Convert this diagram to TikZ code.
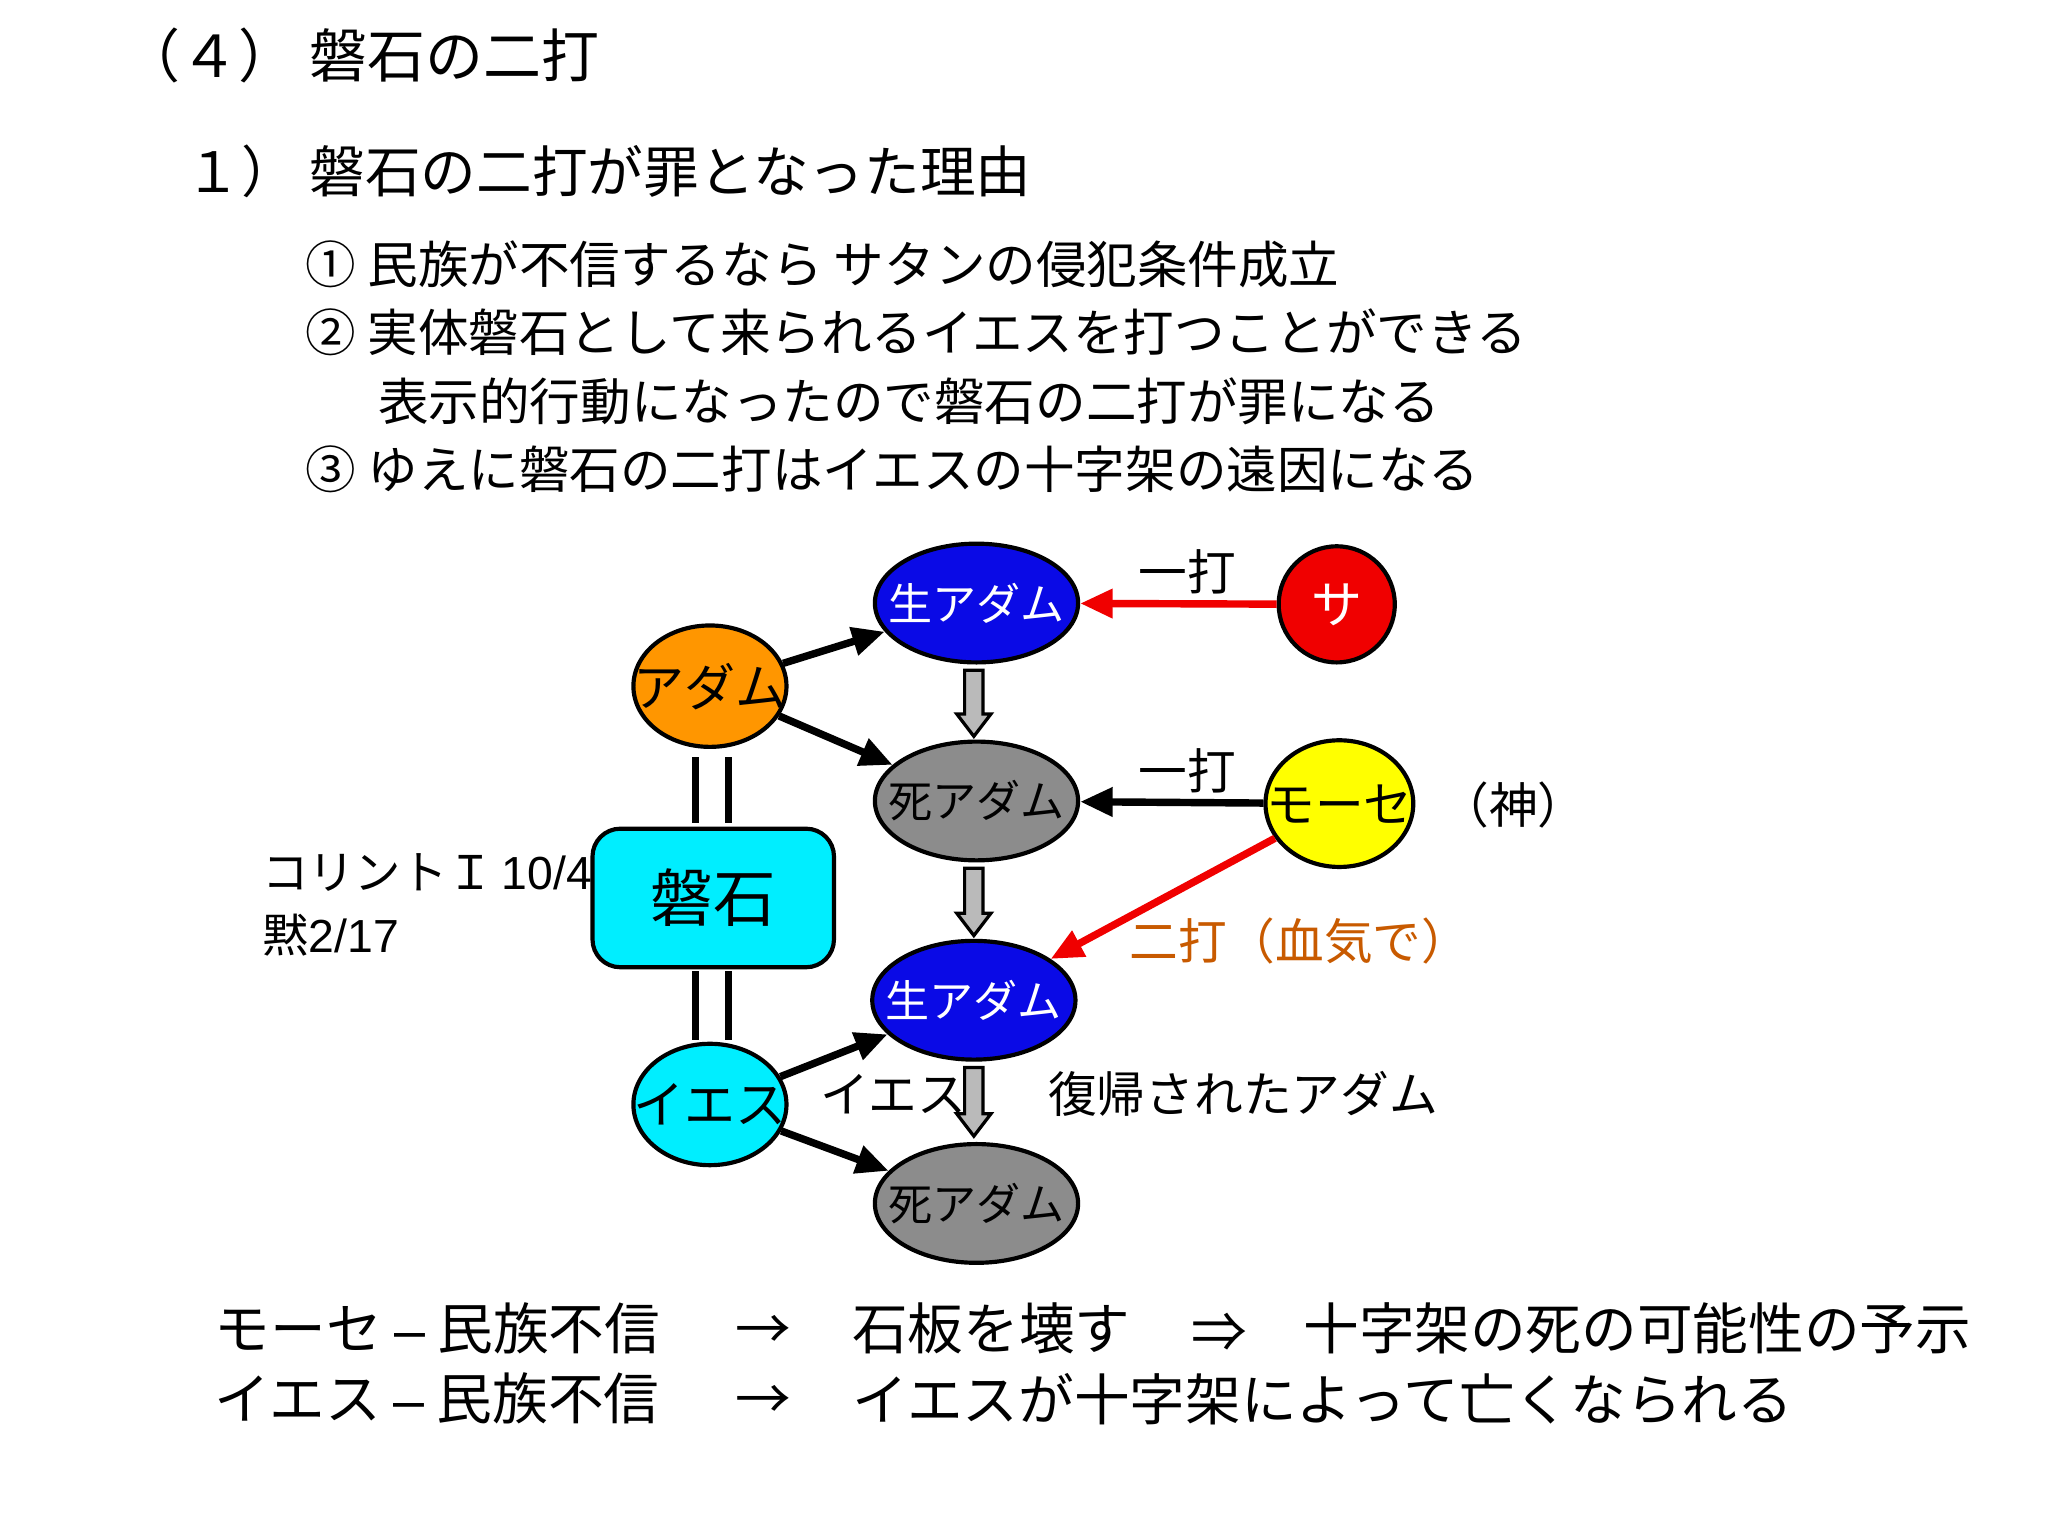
\documentclass[tikz,border=0pt]{standalone}
\usepackage{fontspec}
\setmainfont{Liberation Sans}
\newfontfamily\jp{Noto Sans CJK JP}
\usetikzlibrary{shapes.geometric,arrows.meta}
\definecolor{myblue}{RGB}{10,10,230}
\definecolor{myorange}{RGB}{255,150,0}
\definecolor{mygray}{RGB}{140,140,140}
\definecolor{mycyan}{RGB}{0,238,255}
\definecolor{myyellow}{RGB}{255,255,0}
\definecolor{myred}{RGB}{240,0,0}
\definecolor{mybrown}{RGB}{200,90,0}
\newcommand{\fs}[1]{\fontsize{#1}{#1}\selectfont}
\tikzset{
 ell/.style={ellipse,draw=black,line width=0.9pt,inner sep=0pt,minimum width=1.54cm,minimum height=0.9cm},
 lab/.style={inner sep=0pt,font=\jp\fs{9.5}},
 conn/.style={line width=1.6pt,-{Triangle[length=7pt,width=6pt]}},
 txt/.style={anchor=west,inner sep=0pt,font=\jp\fs{11}},
 garrow/.style={fill=mygray!60,draw=black,line width=0.7pt}
}
\begin{document}
\begin{tikzpicture}[x=1cm,y=-1cm]
\useasboundingbox (0,0) rectangle (15.52,11.64);
\node[txt,font=\jp\fs{12.5}] (t1) at (0.92,0.42) {（４）\ 磐石の二打};
\node[txt,font=\jp\fs{12}] (t2) at (1.40,1.30) {１）\ 磐石の二打が罪となった理由};
\node[txt,font=\jp\fs{10.9}] (i1) at (2.31,2.00) {① 民族が不信するなら サタンの侵犯条件成立};
\node[txt,font=\jp\fs{10.9}] (i2) at (2.31,2.52) {② 実体磐石として来られるイエスを打つことができる};
\node[txt,font=\jp\fs{10.9}] (i3) at (2.86,3.04) {表示的行動になったので磐石の二打が罪になる};
\node[txt,font=\jp\fs{10.9}] (i4) at (2.31,3.56) {③ ゆえに磐石の二打はイエスの十字架の遠因になる};

\node[txt,font=\jp\fs{10}] (kor) at (1.98,6.61) {コリントＩ\,{\fontspec{Liberation Sans}10/4}};
\node[txt,font=\jp\fs{10}] (moku) at (1.98,7.09) {黙{\fontspec{Liberation Sans}2/17}};

\node[ell,fill=myblue] (l1) at (7.40,4.57) {};
\node[ell,fill=myred,minimum width=0.88cm,minimum height=0.88cm] (sa) at (10.13,4.58) {};
\node[ell,fill=myorange,minimum width=1.16cm,minimum height=0.92cm] (adam) at (5.38,5.20) {};
\node[ell,fill=mygray] (d1) at (7.40,6.07) {};
\node[ell,fill=myyellow,minimum width=1.12cm,minimum height=0.96cm] (mose) at (10.15,6.09) {};
\node[draw=black,line width=0.9pt,fill=mycyan,rounded corners=6pt,minimum width=1.83cm,minimum height=1.05cm,font=\jp\fs{13.5}] (ban) at (5.405,6.805) {磐石};
\node[ell,fill=myblue] (l2) at (7.38,7.58) {};
\node[ell,fill=mycyan,minimum width=1.16cm,minimum height=0.92cm] (jes) at (5.38,8.37) {};
\node[ell,fill=mygray] (d2) at (7.40,9.12) {};

\node[lab,text=white] (l1t) at (l1) {生アダム};
\node[lab,text=white,font=\jp\fs{11}] (sat) at (sa) {サ};
\node[lab,font=\jp\fs{11}] (adamt) at (adam) {アダム};
\node[lab] (d1t) at (d1) {死アダム};
\node[lab,font=\jp\fs{10.5}] (moset) at (mose) {モーセ};
\node[lab,text=white] (l2t) at (l2) {生アダム};
\node[lab,font=\jp\fs{11}] (jest) at (jes) {イエス};
\node[lab] (d2t) at (d2) {死アダム};

\draw[line width=1.6pt] (5.27,5.74) -- (5.27,6.24) (5.52,5.74) -- (5.52,6.24);
\draw[line width=1.6pt] (5.27,7.36) -- (5.27,7.88) (5.52,7.36) -- (5.52,7.88);

\draw[conn] (adam) -- (l1);
\draw[conn] (adam) -- (d1);
\draw[conn] (jes) -- (l2);
\draw[conn] (jes) -- (d2);
\draw[conn,myred] (sa) -- (l1);
\draw[conn] (mose) -- (d1);
\draw[conn,myred] (mose) -- (l2);

\foreach \ya/\yb in {5.08/5.58,6.58/7.09,8.09/8.61}{
 \draw[garrow] (7.31,\ya) -- (7.45,\ya) -- (7.45,\yb-0.17) -- (7.51,\yb-0.17) -- (7.38,\yb) -- (7.25,\yb-0.17) -- (7.31,\yb-0.17) -- cycle;
}

\node[font=\jp\fs{10.5}] (a1) at (9.0,4.33) {一打};
\node[font=\jp\fs{10.5}] (a2) at (9.0,5.84) {一打};
\node[font=\jp\fs{10.5}] (kami) at (11.47,6.10) {（神）};
\node[font=\jp\fs{10.5},text=mybrown] (nida) at (9.85,7.13) {二打（血気で）};
\node[font=\jp\fs{10.5}] (jl) at (6.77,8.29) {イエス};
\node[font=\jp\fs{10.5}] (fk) at (9.42,8.29) {復帰されたアダム};

\node[txt,font=\jp\fs{12}] (b1a) at (1.62,10.07) {モーセ {\fontspec{Liberation Sans}–} 民族不信};
\node[txt,font=\jp\fs{12}] (b1b) at (5.57,10.10) {→};
\node[txt,font=\jp\fs{12}] (b1c) at (6.45,10.07) {石板を壊す};
\node[txt,font=\jp\fs{12}] (b1d) at (9.02,10.10) {⇒};
\node[txt,font=\jp\fs{12}] (b1e) at (9.87,10.07) {十字架の死の可能性の予示};
\node[txt,font=\jp\fs{12}] (b2a) at (1.62,10.60) {イエス {\fontspec{Liberation Sans}–} 民族不信};
\node[txt,font=\jp\fs{12}] (b2b) at (5.57,10.63) {→};
\node[txt,font=\jp\fs{12}] (b2c) at (6.45,10.60) {イエスが十字架によって亡くなられる};
\end{tikzpicture}
\end{document}
